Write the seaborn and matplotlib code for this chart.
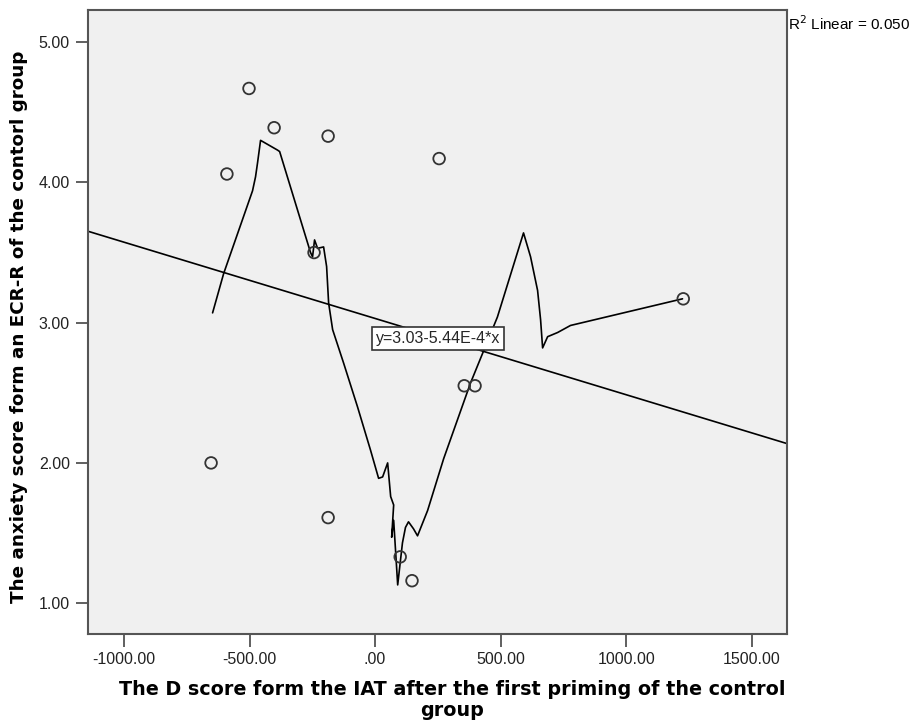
import matplotlib
matplotlib.use("Agg")
import matplotlib.pyplot as plt
import seaborn as sns
import pandas as pd

# Datos de los puntos (D score vs ansiedad)
d_score = [-653, -590, -502, -402, -187, 255, -243, -187, 100, 147, 355, 398, 1227]
anxiety = [2.00, 4.06, 4.67, 4.39, 4.33, 4.17, 3.50, 1.61, 1.33, 1.16, 2.55, 2.55, 3.17]

# Curva de ajuste
curve_x = [-647, -603, -488, -476, -468, -456, -388, -380, -269, -257, -249, -241,
           -229, -205, -193, -185, -169, -125, -70, -18, 14, 30, 50, 62, 74, 66,
           74, 90, 109, 121, 133, 153, 169, 209, 273, 380, 487, 591,
           619, 647, 659, 667, 687, 727, 778, 1224]
curve_y = [3.07, 3.35, 3.94, 4.04, 4.14, 4.30, 4.23, 4.22, 3.57, 3.50, 3.47, 3.59,
           3.53, 3.54, 3.40, 3.14, 2.95, 2.71, 2.40, 2.09, 1.89, 1.90, 2.00, 1.76,
           1.70, 1.47, 1.59, 1.13, 1.43, 1.54, 1.58, 1.53, 1.48, 1.66, 2.03,
           2.57, 3.04, 3.64, 3.47, 3.23, 3.02, 2.82, 2.90, 2.93, 2.98, 3.17]

# Recta de regresión lineal
intercept = 3.03
slope = -5.44e-4
r2 = 0.050

x_ticks = [-1000, -500, 0, 500, 1000, 1500]
x_tick_labels = ['-1000.00', '-500.00', '.00', '500.00', '1000.00', '1500.00']
y_ticks = [1, 2, 3, 4, 5]
y_tick_labels = ['1.00', '2.00', '3.00', '4.00', '5.00']

sns.set_style('ticks')
plt.rcParams['font.family'] = ['Liberation Sans', 'DejaVu Sans']

fig = plt.figure(figsize=(9.14, 7.24), dpi=100)
ax = fig.add_axes([0.0963, 0.1243, 0.765, 0.862])
ax.set_facecolor('#f0f0f0')

points = pd.DataFrame({'x': d_score, 'y': anxiety})
curve = pd.DataFrame({'x': curve_x, 'y': curve_y})

sns.lineplot(data=curve, x='x', y='y', sort=False, estimator=None,
             color='black', linewidth=1.2, ax=ax)
ax.axline((0, intercept), slope=slope, color='black', linewidth=1.2)
sns.scatterplot(data=points, x='x', y='y', s=70, facecolor='none',
                edgecolor='#333333', linewidth=1.3, ax=ax, zorder=3)

ax.set_xlim(-1143, 1641)
ax.set_ylim(0.78, 5.23)
ax.set_xticks(x_ticks)
ax.set_xticklabels(x_tick_labels)
ax.set_yticks(y_ticks)
ax.set_yticklabels(y_tick_labels)
ax.tick_params(axis='both', direction='out', length=9, width=1.2,
               color='#444444', labelsize=11.5, labelcolor='#222222', pad=4)

for side in ['left', 'bottom', 'top', 'right']:
    ax.spines[side].set_visible(True)
    ax.spines[side].set_color('#555555')
    ax.spines[side].set_linewidth(1.5)

ax.set_xlabel('The D score form the IAT after the first priming of the control\ngroup',
              fontsize=13.8, fontweight='bold', family='DejaVu Sans',
              linespacing=1.15, color='black')
ax.xaxis.set_label_coords(0.521, -0.074)
ax.set_ylabel('The anxiety score form an ECR-R of the contorl group',
              fontsize=13.2, fontweight='bold', family='DejaVu Sans',
              color='black')
ax.yaxis.set_label_coords(-0.086, 0.492)

ax.text(251, 2.89, 'y=3.03-5.44E-4*x', fontsize=11.5, ha='center', va='center',
        bbox=dict(boxstyle='square,pad=0.25', facecolor='white',
                  edgecolor='#333333', linewidth=1.2), zorder=4)

fig.text(0.862, 0.968, 'R$^2$ Linear = 0.050', fontsize=11, ha='left',
         va='center', color='black')

fig.savefig('out.png', dpi=100)
